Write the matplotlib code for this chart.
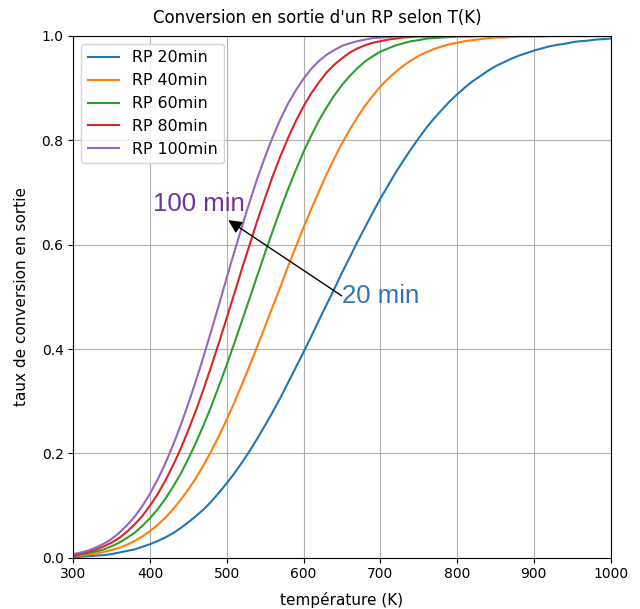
import matplotlib
matplotlib.use('Agg')
import matplotlib.pyplot as plt

# temperatures (K), every 10 K, and outlet conversion
temperature = list(range(300, 1001, 10))

conv_20 = [0.001, 0.002, 0.003, 0.004, 0.005, 0.007, 0.010, 0.013, 0.016, 0.021,
           0.026, 0.032, 0.039, 0.047, 0.057, 0.068, 0.080, 0.093, 0.108, 0.125,
           0.143, 0.162, 0.183, 0.205, 0.229, 0.254, 0.280, 0.307, 0.336, 0.365,
           0.394, 0.424, 0.455, 0.485, 0.515, 0.546, 0.575, 0.605, 0.633, 0.661,
           0.688, 0.713, 0.738, 0.761, 0.783, 0.804, 0.824, 0.842, 0.858, 0.874,
           0.888, 0.901, 0.913, 0.923, 0.933, 0.942, 0.949, 0.956, 0.962, 0.967,
           0.972, 0.976, 0.980, 0.983, 0.985, 0.988, 0.990, 0.991, 0.993, 0.994,
           0.995]
conv_40 = [0.003, 0.004, 0.006, 0.008, 0.011, 0.015, 0.019, 0.025, 0.032, 0.041,
           0.051, 0.063, 0.077, 0.093, 0.111, 0.131, 0.153, 0.178, 0.205, 0.234,
           0.265, 0.298, 0.333, 0.369, 0.406, 0.444, 0.482, 0.520, 0.559, 0.596,
           0.633, 0.668, 0.702, 0.735, 0.765, 0.794, 0.820, 0.844, 0.866, 0.885,
           0.903, 0.918, 0.931, 0.943, 0.953, 0.962, 0.969, 0.975, 0.980, 0.984,
           0.987, 0.990, 0.992, 0.994, 0.996, 0.997, 0.997, 0.998, 0.999, 0.999,
           0.999, 0.999, 1.000, 1.000, 1.000, 1.000, 1.000, 1.000, 1.000, 1.000,
           1.000]
conv_60 = [0.004, 0.006, 0.009, 0.012, 0.016, 0.022, 0.029, 0.038, 0.048, 0.061,
           0.076, 0.093, 0.113, 0.136, 0.161, 0.190, 0.221, 0.255, 0.291, 0.330,
           0.370, 0.412, 0.455, 0.498, 0.542, 0.585, 0.627, 0.668, 0.707, 0.743,
           0.778, 0.809, 0.838, 0.863, 0.886, 0.906, 0.923, 0.938, 0.951, 0.961,
           0.970, 0.976, 0.982, 0.986, 0.990, 0.992, 0.995, 0.996, 0.997, 0.998,
           0.999, 0.999, 0.999, 1.000, 1.000, 1.000, 1.000, 1.000, 1.000, 1.000,
           1.000, 1.000, 1.000, 1.000, 1.000, 1.000, 1.000, 1.000, 1.000, 1.000,
           1.000]
conv_80 = [0.005, 0.008, 0.011, 0.016, 0.022, 0.029, 0.038, 0.050, 0.064, 0.080,
           0.100, 0.122, 0.148, 0.177, 0.209, 0.245, 0.283, 0.324, 0.368, 0.413,
           0.460, 0.507, 0.555, 0.601, 0.647, 0.690, 0.732, 0.770, 0.805, 0.837,
           0.865, 0.890, 0.911, 0.930, 0.945, 0.957, 0.968, 0.976, 0.982, 0.987,
           0.990, 0.993, 0.995, 0.997, 0.998, 0.999, 0.999, 0.999, 1.000, 1.000,
           1.000, 1.000, 1.000, 1.000, 1.000, 1.000, 1.000, 1.000, 1.000, 1.000,
           1.000, 1.000, 1.000, 1.000, 1.000, 1.000, 1.000, 1.000, 1.000, 1.000,
           1.000]
conv_100 = [0.007, 0.010, 0.014, 0.020, 0.027, 0.036, 0.048, 0.062, 0.079, 0.099,
            0.123, 0.150, 0.181, 0.216, 0.254, 0.296, 0.340, 0.387, 0.436, 0.486,
            0.537, 0.587, 0.636, 0.683, 0.728, 0.769, 0.807, 0.841, 0.871, 0.896,
            0.918, 0.937, 0.952, 0.964, 0.973, 0.981, 0.986, 0.990, 0.993, 0.996,
            0.997, 0.998, 0.999, 0.999, 1.000, 1.000, 1.000, 1.000, 1.000, 1.000,
            1.000, 1.000, 1.000, 1.000, 1.000, 1.000, 1.000, 1.000, 1.000, 1.000,
            1.000, 1.000, 1.000, 1.000, 1.000, 1.000, 1.000, 1.000, 1.000, 1.000,
            1.000]

series = [conv_20, conv_40, conv_60, conv_80, conv_100]
labels = ['RP 20min', 'RP 40min', 'RP 60min', 'RP 80min', 'RP 100min']

fig = plt.figure(figsize=(6.4, 6.09), dpi=100)
ax = fig.add_axes([0.1145, 0.0842, 0.8395, 0.8567])

for conv, lab in zip(series, labels):
    ax.plot(temperature, conv, lw=1.5, label=lab)

ax.set_xlim(300, 1000)
ax.set_ylim(0, 1)
ax.grid(True)
ax.tick_params(labelsize=10)
ax.set_xlabel('température (K)', fontsize=11, labelpad=7.5)
ax.set_ylabel('taux de conversion en sortie', fontsize=11, labelpad=9)
# the title sits a bit left of the axes centre in the screenshot
ax.set_title("Conversion en sortie d'un RP selon T(K)", fontsize=12, x=0.4535, pad=9)
ax.legend(loc='upper left', fontsize=11.4)

# hand-drawn annotation: residence time going from 20 to 100 min
ax.annotate('', xy=(502, 0.647), xytext=(649.7, 0.502),
            arrowprops=dict(arrowstyle='-|>', color='black', lw=1,
                            mutation_scale=20, shrinkA=0, shrinkB=0))
ax.text(650.5, 0.488, '20 min', ha='left', va='baseline', fontsize=18.5,
        family='Liberation Sans', color='#2E75B6')
ax.text(404.2, 0.665, '100 min', ha='left', va='baseline', fontsize=18.5,
        family='Liberation Sans', color='#7030A0')

plt.savefig('out.png', dpi=100)
